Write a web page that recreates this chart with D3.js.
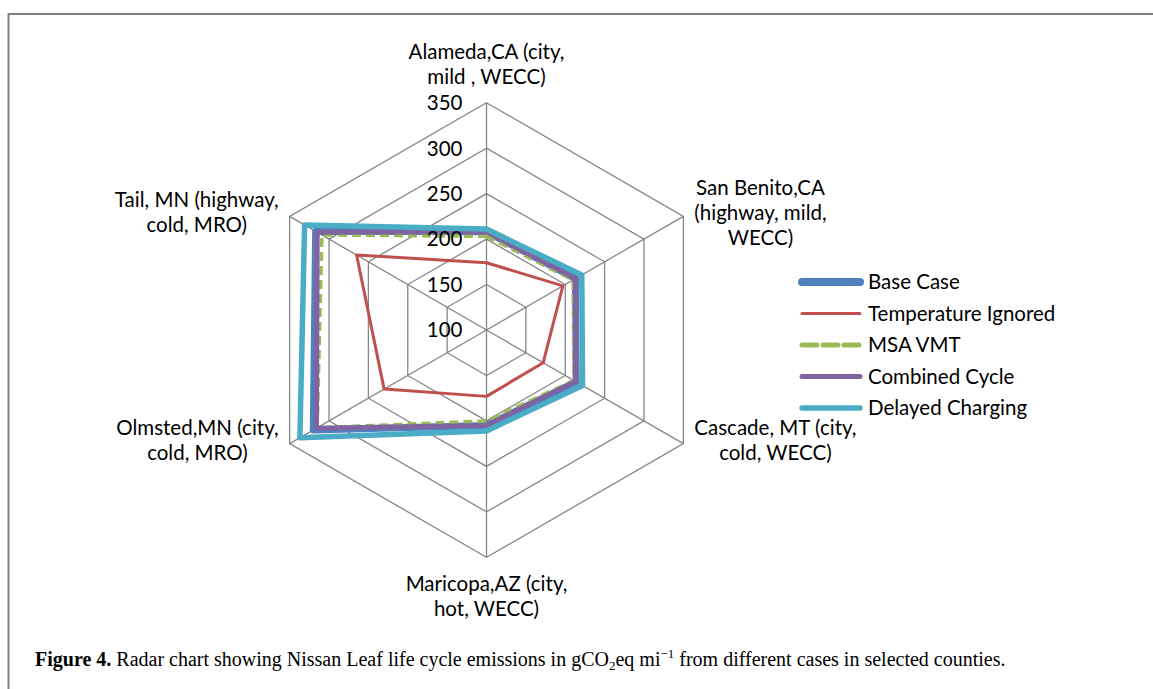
<!DOCTYPE html>
<html>
<head>
<meta charset="utf-8">
<script src="https://d3js.org/d3.v7.min.js"></script>
<style>
  body { margin: 0; background: #fff; }
  svg { display: block; }
  .lbl { font-family: Lato, "Open Sans", sans-serif; fill: #000; }
</style>
</head>
<body>
<div id="chart"></div>
<script>
// counties on the spokes, clockwise from the top
const categories = [
  ["Alameda,CA (city,", "mild , WECC)"],
  ["San Benito,CA", "(highway, mild,", "WECC)"],
  ["Cascade, MT (city,", "cold, WECC)"],
  ["Maricopa,AZ (city,", "hot, WECC)"],
  ["Olmsted,MN (city,", "cold, MRO)"],
  ["Tail, MN (highway,", "cold, MRO)"]
];

const ticks = [100, 150, 200, 250, 300, 350];

// gCO2eq/mi
const baseCase     = [208, 213, 214, 205, 320, 317];
const tempIgnored  = [174, 197, 172, 173, 230, 265];
const msaVmt       = [203, 210, 211, 200, 315, 309];
const combined     = [208, 213, 213, 205, 316, 315];
const delayed      = [211, 221, 222, 211, 337, 331];

const series = [
  { name: "Base Case", values: baseCase, color: "#4F81BD", width: 7, legW: 8 },
  { name: "Temperature Ignored", values: tempIgnored, color: "#C0504D", width: 3, legW: 3 },
  { name: "MSA VMT", values: msaVmt, color: "#9BBB59", width: 3.5, legW: 5, dash: true },
  { name: "Combined Cycle", values: combined, color: "#8064A2", width: 5, legW: 5 },
  { name: "Delayed Charging", values: delayed, color: "#4BACC6", width: 5.5, legW: 5.5 }
];

const W = 1153, H = 689;
const cx = 486.5, cy = 330, R = 227.3;
const fontSize = 20.5;

const svg = d3.select("#chart").append("svg")
  .attr("width", W).attr("height", H);

// frame
svg.append("path")
  .attr("d", `M8.5,${H} V14 H${W}`)
  .attr("fill", "none").attr("stroke", "#808080").attr("stroke-width", 2);

const r = d3.scaleLinear().domain([100, 350]).range([0, R]);
const angle = d3.scaleLinear().domain([0, categories.length]).range([0, 2 * Math.PI]);
const pt = (i, v) => [cx + r(v) * Math.sin(angle(i)), cy - r(v) * Math.cos(angle(i))];

const grid = svg.append("g").attr("stroke", "#868686").attr("stroke-width", 1.3).attr("fill", "none");

ticks.slice(1).forEach(t => {
  grid.append("path").attr("d", d3.line()(categories.map((c, i) => pt(i, t))) + "Z");
});
categories.forEach((c, i) => {
  const [x, y] = pt(i, 350);
  grid.append("line").attr("x1", cx).attr("y1", cy).attr("x2", x).attr("y2", y);
});

// series
const line = d3.line().curve(d3.curveLinearClosed);
svg.append("g").selectAll("path").data(series).join("path")
  .attr("d", s => line(s.values.map((v, i) => pt(i, v))))
  .attr("fill", "none")
  .attr("stroke", s => s.color)
  .attr("stroke-width", s => s.width)
  .attr("stroke-linejoin", "round")
  .attr("stroke-dasharray", s => s.dash ? "9,5" : null);

// tick labels along the top spoke, on top of the lines
svg.append("g").selectAll("text").data(ticks).join("text")
  .attr("class", "lbl")
  .attr("x", cx - 24)
  .attr("y", d => cy - r(d))
  .attr("dy", "0.36em")
  .attr("text-anchor", "end")
  .attr("font-size", fontSize)
  .text(d => d);

// category labels
const lh = 25;
categories.forEach((lines, i) => {
  const [ex, ey] = pt(i, 350);
  const g = svg.append("g");
  const txt = g.selectAll("text").data(lines).join("text")
    .attr("class", "lbl")
    .attr("font-size", fontSize)
    .attr("text-anchor", "middle")
    .text(d => d);
  let wMax = 0;
  txt.each(function () { wMax = Math.max(wMax, this.getComputedTextLength()); });
  const n = lines.length;
  let bx, by;
  if (i === 0) { bx = ex; by = ey - 39; }
  else if (i === 3) { bx = ex; by = ey + 39; }
  else if (i < 3) { bx = ex + 11 + wMax / 2; by = ey - 4; }
  else { bx = ex - 11 - wMax / 2; by = ey - 4; }
  txt.attr("x", bx)
    .attr("y", (d, k) => by + (k - (n - 1) / 2) * lh)
    .attr("dy", "0.36em");
});

// legend
const leg = svg.append("g").attr("transform", "translate(800,282)");
const row = leg.selectAll("g").data(series).join("g")
  .attr("transform", (d, k) => `translate(0,${k * 31.5})`);
row.append("line")
  .attr("x1", 2).attr("x2", 60)
  .attr("stroke", d => d.color)
  .attr("stroke-width", d => d.legW)
  .attr("stroke-linecap", "round")
  .attr("stroke-dasharray", d => d.dash ? "15,6" : null);
row.append("text")
  .attr("class", "lbl")
  .attr("x", 68).attr("dy", "0.36em")
  .attr("font-size", fontSize)
  .text(d => d.name);

// caption
const cap = svg.append("text")
  .attr("x", 35).attr("y", 666)
  .attr("font-family", "'Liberation Serif', 'DejaVu Serif', serif")
  .attr("font-size", 20);
cap.append("tspan").attr("font-weight", "bold").text("Figure 4.");
cap.append("tspan").text(" Radar chart showing Nissan Leaf life cycle emissions in gCO");
cap.append("tspan").attr("font-size", 13).attr("dy", 4).text("2");
cap.append("tspan").attr("dy", -4).text("eq mi");
cap.append("tspan").attr("font-size", 13).attr("dy", -8).text("\u22121");
cap.append("tspan").attr("dy", 8).text(" from different cases in selected counties.");
</script>
</body>
</html>
